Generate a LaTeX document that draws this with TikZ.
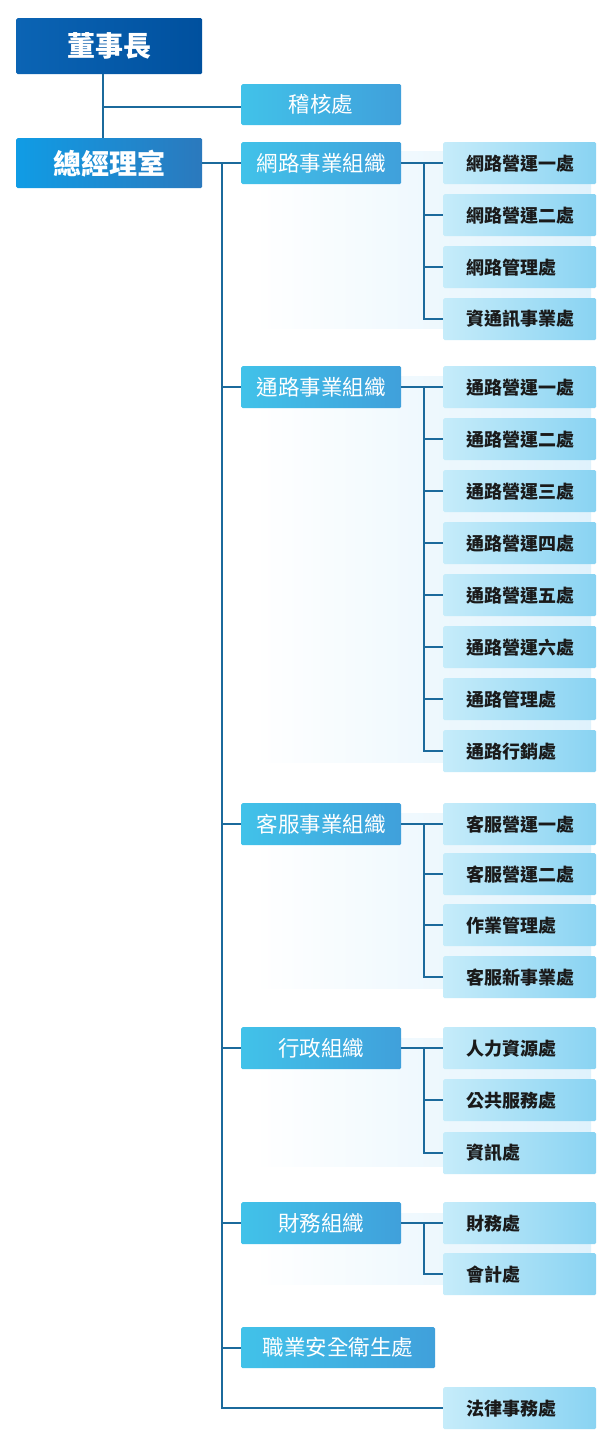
\documentclass[tikz,border=0pt]{standalone}
\usepackage{fontspec}
\setmainfont{Noto Sans CJK TC}
\definecolor{ceoL}{HTML}{0B64B4}
\definecolor{ceoR}{HTML}{00509E}
\definecolor{gmL}{HTML}{109CE5}
\definecolor{gmR}{HTML}{2B79BD}
\definecolor{grpL}{HTML}{41C2E9}
\definecolor{grpR}{HTML}{40A0DB}
\definecolor{leafL}{HTML}{C6ECFA}
\definecolor{leafR}{HTML}{89D3F2}
\definecolor{panelR}{HTML}{DFF2FC}
\definecolor{conncol}{HTML}{1B6A9C}
\definecolor{leaftxt}{HTML}{1A1A1A}
\tikzset{
  topbox/.style={rectangle, rounded corners=1.5pt, anchor=north west, minimum width=186pt,
    text=white, font=\fontsize{28pt}{32pt}\selectfont\bfseries, inner sep=0pt},
  grpbox/.style={rectangle, rounded corners=1.5pt, anchor=north west, minimum height=42pt,
    left color=grpL, right color=grpR, text=white, font=\fontsize{21.5pt}{25pt}\selectfont, inner sep=0pt},
  leafbox/.style={rectangle, rounded corners=1.5pt, anchor=north west, minimum width=153pt, minimum height=42pt,
    left color=leafL, right color=leafR, text=leaftxt, inner xsep=0pt, inner ysep=0pt,
    text width=153pt, align=left, font=\fontsize{18pt}{22pt}\selectfont\bfseries,
    execute at begin node={\hspace*{23pt}}},
  panel/.style={left color=white, right color=panelR},
  conn/.style={draw=conncol, line width=2pt}
}
\begin{document}
\begin{tikzpicture}[x=1pt,y=-1pt]
\fill[white] (0,0) rectangle (615,1447);
\useasboundingbox (0,0) rectangle (615,1447);
% panels
\shade[panel] (255,152) rectangle (591,328);
\shade[panel] (255,376) rectangle (591,762);
\shade[panel] (255,813) rectangle (591,988);
\shade[panel] (255,1038) rectangle (591,1166);
\shade[panel] (255,1213) rectangle (591,1284);
% top boxes
\node[topbox, minimum height=56pt, left color=ceoL, right color=ceoR] (ceo) at (16,18) {董事長};
\node[topbox, minimum height=50pt, left color=gmL, right color=gmR] (gm) at (16,138) {總經理室};
\node[grpbox, minimum width=160pt, minimum height=41pt] (aud) at (241,84) {稽核處};
% groups
\node[grpbox, minimum width=160pt] (g1) at (241,142) {網路事業組織};
\node[grpbox, minimum width=160pt] (g2) at (241,366) {通路事業組織};
\node[grpbox, minimum width=160pt] (g3) at (241,803) {客服事業組織};
\node[grpbox, minimum width=160pt] (g4) at (241,1027) {行政組織};
\node[grpbox, minimum width=160pt] (g5) at (241,1202) {財務組織};
\node[grpbox, minimum width=194pt, minimum height=41pt] (g6) at (241,1327) {職業安全衛生處};
% leaves
\node[leafbox] (a1) at (443,142) {網路營運一處};
\node[leafbox] (a2) at (443,194) {網路營運二處};
\node[leafbox] (a3) at (443,246) {網路管理處};
\node[leafbox] (a4) at (443,298) {資通訊事業處};
\node[leafbox] (b1) at (443,366) {通路營運一處};
\node[leafbox] (b2) at (443,418) {通路營運二處};
\node[leafbox] (b3) at (443,470) {通路營運三處};
\node[leafbox] (b4) at (443,522) {通路營運四處};
\node[leafbox] (b5) at (443,574) {通路營運五處};
\node[leafbox] (b6) at (443,626) {通路營運六處};
\node[leafbox] (b7) at (443,678) {通路管理處};
\node[leafbox] (b8) at (443,730) {通路行銷處};
\node[leafbox] (c1) at (443,803) {客服營運一處};
\node[leafbox] (c2) at (443,853) {客服營運二處};
\node[leafbox] (c3) at (443,904) {作業管理處};
\node[leafbox] (c4) at (443,956) {客服新事業處};
\node[leafbox] (d1) at (443,1027) {人力資源處};
\node[leafbox] (d2) at (443,1079) {公共服務處};
\node[leafbox] (d3) at (443,1132) {資訊處};
\node[leafbox] (e1) at (443,1202) {財務處};
\node[leafbox] (e2) at (443,1253) {會計處};
\node[leafbox] (f1) at (443,1387) {法律事務處};
% coordinates for spines
\coordinate (vx) at (103,0);
\coordinate (tx) at (222,0);
\coordinate (sx) at (424,0);
% connectors
\draw[conn] (ceo.south -| vx) -- (gm.north -| vx);
\draw[conn] ([yshift=-2.5pt]aud.west -| vx) -- ([yshift=-2.5pt]aud.west);
\draw[conn] (gm.east) -- (g1.west);
\draw[conn] (gm.east -| tx) |- (f1.west);
\foreach \g in {g2,g3,g4,g5,g6} \draw[conn] (\g.west -| tx) -- (\g.west);
% group to leaves
\draw[conn] (g1.east) -- (a1.west);
\draw[conn] (g1.east -| sx) |- (a4.west);
\foreach \l in {a2,a3} \draw[conn] (\l.west -| sx) -- (\l.west);
\draw[conn] (g2.east) -- (b1.west);
\draw[conn] (g2.east -| sx) |- (b8.west);
\foreach \l in {b2,b3,b4,b5,b6,b7} \draw[conn] (\l.west -| sx) -- (\l.west);
\draw[conn] (g3.east) -- (c1.west);
\draw[conn] (g3.east -| sx) |- (c4.west);
\foreach \l in {c2,c3} \draw[conn] (\l.west -| sx) -- (\l.west);
\draw[conn] (g4.east) -- (d1.west);
\draw[conn] (g4.east -| sx) |- (d3.west);
\draw[conn] (d2.west -| sx) -- (d2.west);
\draw[conn] (g5.east) -- (e1.west);
\draw[conn] (g5.east -| sx) |- (e2.west);
\end{tikzpicture}
\end{document}
